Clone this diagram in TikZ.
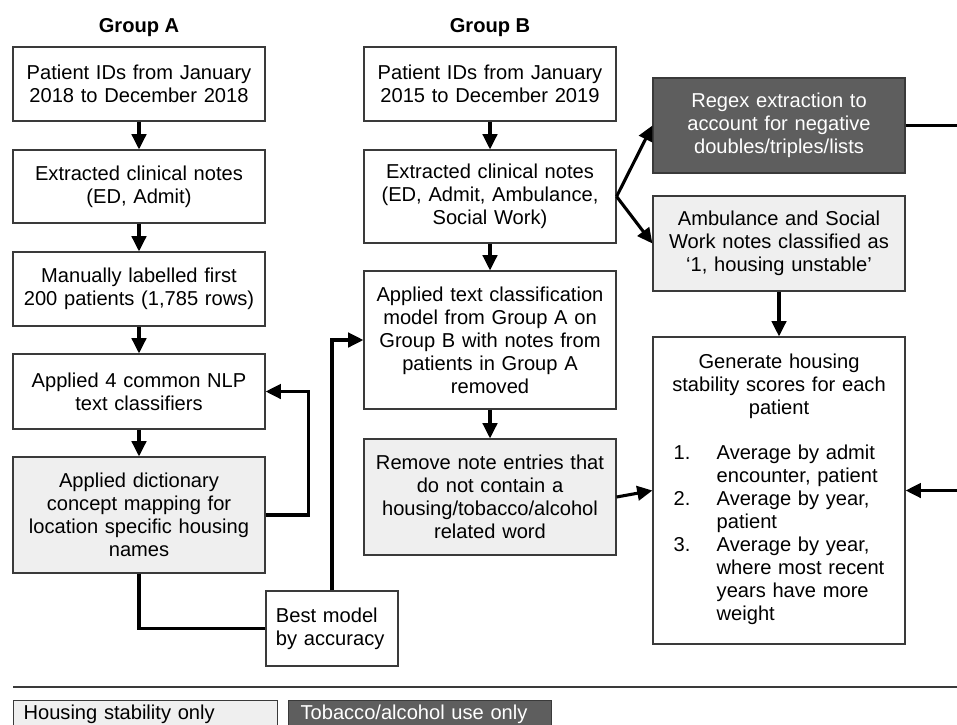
\documentclass[tikz,border=0pt]{standalone}
\usepackage{fontspec}
\setmainfont{Liberation Sans}
\usetikzlibrary{arrows.meta}

\definecolor{lightfill}{HTML}{EFEFEF}
\definecolor{darkfill}{HTML}{5E5E5E}
\definecolor{boxline}{HTML}{3A3A3A}
\newcommand{\flowfont}{\fontsize{14.3}{16.4}\selectfont}

\begin{document}
\begin{tikzpicture}[x=0.025cm, y=-0.025cm,
    box/.style={draw=boxline, line width=0.8pt, fill=white, minimum width=6.3cm,
        text width=6.0cm, align=center, inner sep=0.15cm, font=\flowfont},
    hsg/.style={box, fill=lightfill},
    tob/.style={box, fill=darkfill, text=white},
    legbox/.style={draw=boxline, line width=0.8pt, anchor=north west, align=left,
        minimum height=0.68cm, inner ysep=0.05cm, font=\flowfont},
    link/.style={line width=2.2pt},
    arr/.style={link, -{Triangle[length=0.38cm, width=0.36cm]}}]
\useasboundingbox (0,0) rectangle (957,724);

% Group A
\node[font=\flowfont\bfseries] (titleA) at (139,28) {Group A};
\node[box, minimum height=1.85cm] (patA) at (139,84) {Patient IDs from January\\2018 to December 2018};
\node[box, minimum height=1.825cm] (notesA) at (139,186.5) {Extracted clinical notes\\(ED, Admit)};
\node[box, minimum height=1.85cm] (label) at (139,289) {Manually labelled first\\200 patients (1,785 rows)};
\node[box, minimum height=1.875cm] (nlp) at (139,391.5) {Applied 4 common NLP\\text classifiers};
\node[hsg, minimum height=2.9cm] (dict) at (139,515) {Applied dictionary\\concept mapping for\\location specific housing\\names};
\node[box, minimum width=3.3cm, text width=2.8cm, inner xsep=0.25cm, align=left,
    minimum height=1.875cm] (best) at (332,628.5) {Best model\\by accuracy};

% Group B
\node[font=\flowfont\bfseries] (titleB) at (490,28) {Group B};
\node[box, minimum height=1.85cm] (patB) at (490,84) {Patient IDs from January\\2015 to December 2019};
\node[box, minimum height=2.325cm] (notesB) at (490,196.5) {Extracted clinical notes\\(ED, Admit, Ambulance,\\Social Work)};
\node[box, minimum height=3.45cm] (applyB) at (490,340) {Applied text classification\\model from Group A on\\Group B with notes from\\patients in Group A\\removed};
\node[hsg, minimum height=2.9cm] (filter) at (490,497) {Remove note entries that\\do not contain a\\housing/tobacco/alcohol\\related word};

% right column
\node[tob, minimum height=2.375cm] (regex) at (779,125.5) {Regex extraction to\\account for negative\\doubles/triples/lists};
\node[hsg, minimum height=2.375cm] (ambul) at (779,243.5) {Ambulance and Social\\Work notes classified as\\`1, housing unstable'};
\node[box, minimum height=7.675cm] (scores) at (779,490.5) {Generate housing\\stability scores for each\\patient\\[\baselineskip]%
    \begin{tabular}{@{}p{1.075cm}@{}l@{}}
    1. & Average by admit\\
       & encounter, patient\\
    2. & Average by year,\\
       & patient\\
    3. & Average by year,\\
       & where most recent\\
       & years have more\\
       & weight
    \end{tabular}};

% connectors
\draw[arr] (patA) -- (notesA);
\draw[arr] (notesA) -- (label);
\draw[arr] (label) -- (nlp);
\draw[arr] (nlp) -- (dict);
\draw[arr] (dict.east) -- ++(43,0) |- (nlp.east);
\draw[link] (dict.south) |- (best.west);
\draw[arr] (best.north) |- (applyB.west);

\draw[arr] (patB) -- (notesB);
\draw[arr] (notesB) -- (applyB);
\draw[arr] (applyB) -- (filter);
\draw[arr] (notesB.east) -- (regex.west);
\draw[arr] (notesB.east) -- (ambul.west);
\draw[arr] (ambul) -- (scores);
\draw[arr] (filter.east) -- (scores.west);
\draw[arr] (regex.east) -- ++(70,0) |- (scores.east);

% legend
\draw[boxline, line width=0.8pt] (13,687) -- (957,687);
\node[legbox, fill=lightfill, minimum width=6.6cm, text width=6.1cm, inner xsep=0.25cm] (legA) at (13,700) {Housing stability only};
\node[legbox, fill=darkfill, text=white, minimum width=6.575cm, text width=5.975cm, inner xsep=0.3cm] (legB) at (288,700) {Tobacco/alcohol use only};
\end{tikzpicture}
\end{document}
